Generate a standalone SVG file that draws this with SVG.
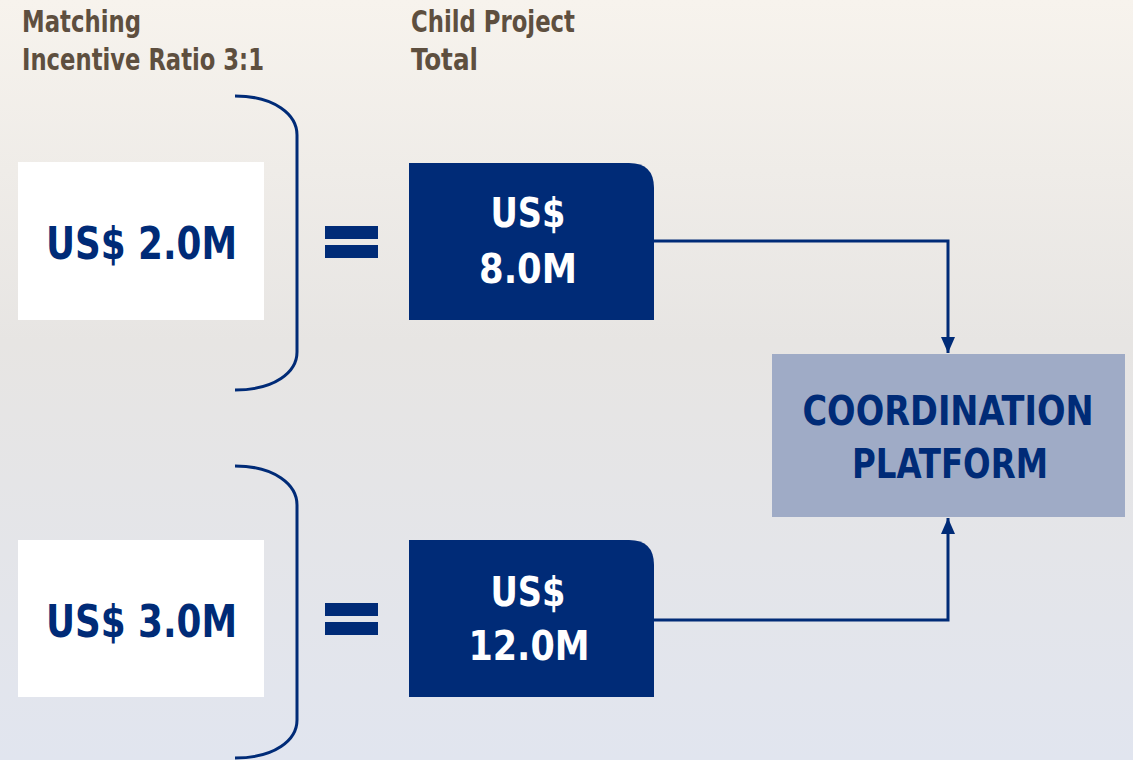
<svg xmlns="http://www.w3.org/2000/svg" width="1133" height="760" viewBox="0 0 1133 760">
  <defs>
    <linearGradient id="bg" x1="0" y1="0" x2="0" y2="1">
      <stop offset="0" stop-color="#f7f3ed"/>
      <stop offset="0.45" stop-color="#e7e5e3"/>
      <stop offset="1" stop-color="#e1e5ef"/>
    </linearGradient>
    <marker id="arrow" viewBox="0 0 16 14" refX="16" refY="7" markerWidth="16" markerHeight="14" markerUnits="userSpaceOnUse" orient="auto">
      <path d="M0,0 L16,7 L0,14 Z" fill="#002b77"/>
    </marker>
    <style>
      .t { font-family: "DejaVu Sans Condensed", "DejaVu Sans", sans-serif; font-weight: bold; font-stretch: condensed; }
      .hdr { fill: #5e4f3f; font-size: 30px; }
      .big { font-size: 44px; }
      .plat { font-size: 41px; }
      .mid { font-size: 41px; }
      .white { fill: #ffffff; }
      .navy { fill: #002b77; }
      .wbox { fill: #ffffff; }
      .nbox { fill: #002b77; }
      .bracket { fill: none; stroke: #002b77; stroke-width: 3; }
      .conn { fill: none; stroke: #002b77; stroke-width: 3; }
    </style>
  </defs>
  <rect x="0" y="0" width="1133" height="760" fill="url(#bg)"/>

  <g id="header-matching">
    <text class="t hdr" x="22" y="32" textLength="119" lengthAdjust="spacingAndGlyphs">Matching</text>
    <text class="t hdr" x="22" y="70" textLength="242" lengthAdjust="spacingAndGlyphs">Incentive Ratio 3:1</text>
  </g>
  <g id="header-child">
    <text class="t hdr" x="411" y="32" textLength="164" lengthAdjust="spacingAndGlyphs">Child Project</text>
    <text class="t hdr" x="411" y="70" textLength="67" lengthAdjust="spacingAndGlyphs">Total</text>
  </g>

  <g id="match1">
    <rect class="wbox" x="18" y="162" width="246" height="158"/>
    <text class="t big navy" x="46" y="259" textLength="191" lengthAdjust="spacingAndGlyphs">US$ 2.0M</text>
  </g>
  <g id="bracket1">
    <path class="bracket" d="M235,96 C275,96 297,115 297,135 L297,352 C297,372 275,390 235,390"/>
  </g>
  <g id="equals1">
    <rect class="nbox" x="325" y="226" width="53" height="13"/>
    <rect class="nbox" x="325" y="245" width="53" height="13"/>
  </g>
  <g id="child1">
    <path class="nbox" d="M409,163 H629 Q654,163 654,188 V320 H409 Z"/>
    <text class="t mid white" x="528" y="227" text-anchor="middle" textLength="75" lengthAdjust="spacingAndGlyphs">US$</text>
    <text class="t mid white" x="528" y="283" text-anchor="middle" textLength="98" lengthAdjust="spacingAndGlyphs">8.0M</text>
  </g>

  <g id="match2">
    <rect class="wbox" x="18" y="540" width="246" height="157"/>
    <text class="t big navy" x="46" y="637" textLength="191" lengthAdjust="spacingAndGlyphs">US$ 3.0M</text>
  </g>
  <g id="bracket2">
    <path class="bracket" d="M235,466 C275,466 297,485 297,505 L297,720 C297,740 275,758 235,758"/>
  </g>
  <g id="equals2">
    <rect class="nbox" x="325" y="603" width="53" height="13"/>
    <rect class="nbox" x="325" y="622" width="53" height="13"/>
  </g>
  <g id="child2">
    <path class="nbox" d="M409,540 H629 Q654,540 654,565 V697 H409 Z"/>
    <text class="t mid white" x="528" y="606" text-anchor="middle" textLength="75" lengthAdjust="spacingAndGlyphs">US$</text>
    <text class="t mid white" x="529" y="660" text-anchor="middle" textLength="121" lengthAdjust="spacingAndGlyphs">12.0M</text>
  </g>

  <g id="platform">
    <rect x="772" y="354" width="353" height="163" fill="#9fabc6"/>
    <text class="t plat navy" x="948" y="425" text-anchor="middle" textLength="291" lengthAdjust="spacingAndGlyphs">COORDINATION</text>
    <text class="t plat navy" x="950" y="478" text-anchor="middle" textLength="196" lengthAdjust="spacingAndGlyphs">PLATFORM</text>
  </g>

  <g id="connectors">
    <path class="conn" d="M654,241 H948 V353" marker-end="url(#arrow)"/>
    <path class="conn" d="M654,620 H948 V518" marker-end="url(#arrow)"/>
  </g>
</svg>
